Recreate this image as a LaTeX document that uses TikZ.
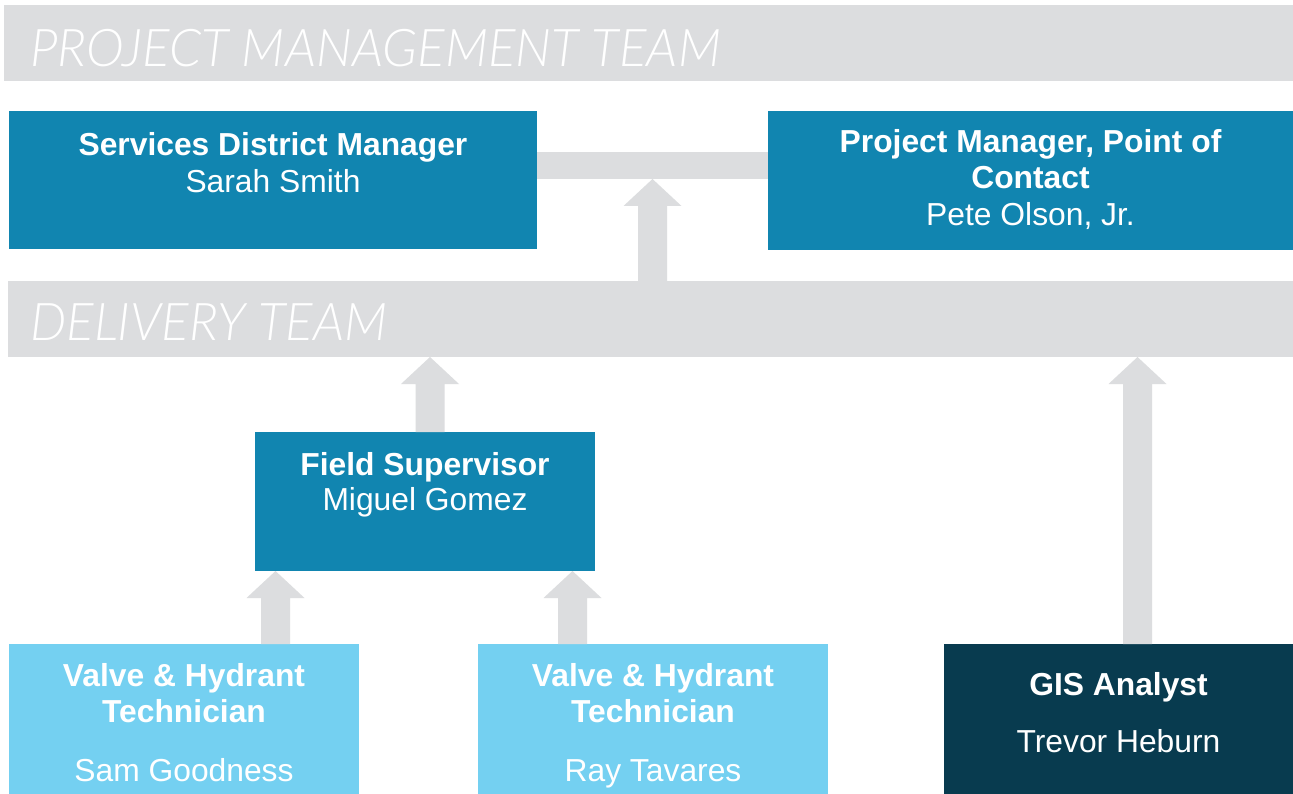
\documentclass[tikz,border=0pt]{standalone}
\usepackage{fontspec}
\setmainfont{Liberation Sans}
\newfontfamily\headfont{Lato}[UprightFont={* Light Italic}, FakeStretch=0.985]
\usetikzlibrary{calc}

\definecolor{barGray}{HTML}{DCDDDF}
\definecolor{midBlue}{HTML}{1185B0}
\definecolor{skyBlue}{HTML}{74D0F1}
\definecolor{navyBlue}{HTML}{083B4F}

\tikzset{
  box/.style={anchor=north west, inner sep=0pt, outer sep=0pt, draw=none},
  band/.style={box, fill=barGray},
  role/.style={anchor=base, inner sep=0pt, text=white, font=\fontsize{31.8}{36}\selectfont\bfseries},
  person/.style={anchor=base, inner sep=0pt, text=white, font=\fontsize{31.8}{36}\selectfont},
  teamlabel/.style={anchor=base west, inner sep=0pt, text=white, font=\fontsize{52}{56}\selectfont\headfont},
  conn/.style={fill=barGray, draw=none}
}

% block arrow pointing up from the top of #1 to the bottom of #2, shaft centred at x=#3
\newcommand{\blockup}[3]{%
  \fill[conn] let \p1=(#1.north), \p2=(#2.south) in
    ({#3pt-14.5pt},\y1) -- ({#3pt-14.5pt},{\y2-27pt}) -- ({#3pt-29pt},{\y2-27pt})
    -- ({#3pt},\y2) -- ({#3pt+29pt},{\y2-27pt}) -- ({#3pt+14.5pt},{\y2-27pt})
    -- ({#3pt+14.5pt},\y1) -- cycle;}

\begin{document}
\begin{tikzpicture}[x=1pt, y=-1pt]
  \useasboundingbox[fill=white] (0,0) rectangle (1293,794);

  % team bands
  \node[band, minimum width=1289pt, minimum height=76pt] (pmt) at (4,5) {};
  \node[teamlabel] (pmtT) at (30,67) {PROJECT MANAGEMENT TEAM};
  \node[band, minimum width=1285pt, minimum height=76pt] (dt) at (8,281) {};
  \node[teamlabel] (dtT) at (30,340) {DELIVERY TEAM};

  % project management boxes
  \node[box, fill=midBlue, minimum width=528pt, minimum height=138pt] (sdm) at (9,111) {};
  \node[box, fill=midBlue, minimum width=525pt, minimum height=139pt] (pm) at (768,111) {};
  \node[box, fill=barGray, minimum width=231pt, minimum height=27pt] (link) at (537,152) {};

  \node[role]   (sdmR) at ($(sdm.north)+(0,45)$) {Services District Manager};
  \node[person] (sdmP) at ($(sdm.north)+(0,82)$) {Sarah Smith};
  \node[role]   (pmR1) at ($(pm.north)+(0,42)$) {Project Manager, Point of};
  \node[role]   (pmR2) at ($(pm.north)+(0,78)$) {Contact};
  \node[person] (pmP)  at ($(pm.north)+(0,115)$) {Pete Olson, Jr.};

  % delivery boxes
  \node[box, fill=midBlue, minimum width=340pt, minimum height=139pt] (fs) at (255,432) {};
  \node[role]   (fsR) at ($(fs.north)+(0,43)$) {Field Supervisor};
  \node[person] (fsP) at ($(fs.north)+(0,78)$) {Miguel Gomez};

  \node[box, fill=skyBlue, minimum width=350pt, minimum height=150pt] (tech1) at (9,644) {};
  \node[role]   (tech1R1) at ($(tech1.north)+(0,42)$) {Valve \& Hydrant};
  \node[role]   (tech1R2) at ($(tech1.north)+(0,78)$) {Technician};
  \node[person] (tech1P)  at ($(tech1.north)+(0,137)$) {Sam Goodness};

  \node[box, fill=skyBlue, minimum width=350pt, minimum height=150pt] (tech2) at (478,644) {};
  \node[role]   (tech2R1) at ($(tech2.north)+(0,42)$) {Valve \& Hydrant};
  \node[role]   (tech2R2) at ($(tech2.north)+(0,78)$) {Technician};
  \node[person] (tech2P)  at ($(tech2.north)+(0,137)$) {Ray Tavares};

  \node[box, fill=navyBlue, minimum width=349pt, minimum height=150pt] (gis) at (944,644) {};
  \node[role]   (gisR) at ($(gis.north)+(0,51)$) {GIS Analyst};
  \node[person] (gisP) at ($(gis.north)+(0,108)$) {Trevor Heburn};

  % reporting arrows
  \blockup{dt}{link}{652.5}
  \blockup{fs}{dt}{430}
  \blockup{tech1}{fs}{275.5}
  \blockup{tech2}{fs}{572.5}
  \blockup{gis}{dt}{1137.5}
\end{tikzpicture}
\end{document}
